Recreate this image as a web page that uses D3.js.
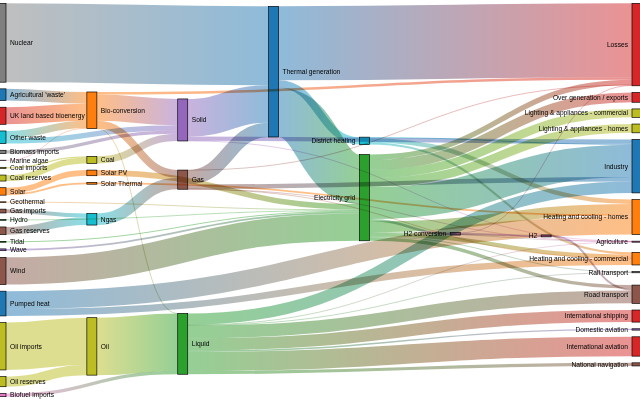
<!DOCTYPE html>
<html>
<head>
<meta charset="utf-8">
<style>
  body { margin: 0; background: #fff; }
  svg { display: block; font: 6.667px "Liberation Sans", Arial, sans-serif; }
</style>
</head>
<body>
<script src="https://cdn.jsdelivr.net/npm/d3@7"></script>
<script>
var width = 640, height = 400;

// nodes, in the order the layout sees them
var nodeNames = [
  "Agricultural 'waste'", "Bio-conversion", "Liquid", "Losses", "Solid", "Gas",
  "Biofuel imports", "Biomass imports", "Coal imports", "Coal", "Coal reserves",
  "District heating", "Industry", "Heating and cooling - commercial",
  "Heating and cooling - homes", "Electricity grid", "Over generation / exports",
  "H2 conversion", "Road transport", "Agriculture", "Rail transport",
  "Lighting & appliances - commercial", "Lighting & appliances - homes",
  "Gas imports", "Ngas", "Gas reserves", "Thermal generation", "Geothermal", "H2",
  "Hydro", "International shipping", "Domestic aviation", "International aviation",
  "National navigation", "Marine algae", "Nuclear", "Oil imports", "Oil",
  "Oil reserves", "Other waste", "Pumped heat", "Solar PV", "Solar Thermal",
  "Solar", "Tidal", "UK land based bioenergy", "Wave", "Wind"
];

// flows: source index, target index, value (TWh)
var linkSource = [0, 1, 1, 1, 1, 6, 7, 8, 10, 9, 11, 11, 11, 15, 15, 15, 15, 15, 15, 15,
  15, 15, 15, 15, 23, 25, 5, 5, 5, 5, 5, 27, 17, 17, 28, 29, 2, 2, 2, 2,
  2, 2, 2, 2, 34, 24, 35, 36, 38, 37, 39, 39, 40, 40, 41, 42, 43, 43, 4, 4,
  4, 26, 26, 26, 44, 45, 46, 47];
var linkTarget = [1, 2, 3, 4, 5, 2, 4, 9, 9, 4, 12, 13, 14, 16, 14, 17, 12, 18, 19, 13,
  3, 20, 21, 22, 24, 24, 13, 3, 26, 19, 12, 15, 28, 3, 18, 15, 12, 30, 18, 31,
  32, 19, 33, 20, 1, 5, 26, 37, 37, 2, 4, 1, 14, 13, 15, 14, 42, 41, 19, 26,
  12, 15, 3, 11, 15, 1, 15, 15];
var linkValue = [124.729, 0.597, 26.862, 280.322, 81.144, 35, 35, 11.606, 63.965, 75.571,
  10.639, 22.505, 46.184, 104.453, 113.726, 27.14, 342.165, 37.797, 4.412, 40.858,
  56.691, 7.863, 90.008, 93.494, 40.719, 82.233, 0.129, 1.401, 151.891, 2.096,
  48.58, 7.013, 20.897, 6.242, 20.897, 6.995, 121.066, 128.69, 135.835, 14.458,
  206.267, 3.64, 33.218, 4.413, 4.375, 122.952, 839.978, 504.287, 107.703, 611.99,
  56.587, 77.81, 193.026, 70.672, 59.901, 19.263, 19.263, 59.901, 0.882, 400.12,
  46.477, 525.531, 787.129, 79.329, 9.452, 182.01, 19.013, 289.366];

// small sankey layout (same steps as d3-sankey, justify alignment)
function sankey(nodes, links, x0, y0, x1, y1, dx, dy, iterations) {
  var py;
  nodes.forEach(function (node, i) { node.index = i; node.sourceLinks = []; node.targetLinks = []; });
  links.forEach(function (link, i) {
    link.index = i;
    link.source = nodes[link.source];
    link.target = nodes[link.target];
    link.source.sourceLinks.push(link);
    link.target.targetLinks.push(link);
  });
  nodes.forEach(function (node) {
    node.value = Math.max(d3.sum(node.sourceLinks, function (l) { return l.value; }),
                          d3.sum(node.targetLinks, function (l) { return l.value; }));
  });

  var current = new Set(nodes), next, x = 0;
  while (current.size) {
    next = new Set();
    current.forEach(function (node) {
      node.depth = x;
      node.sourceLinks.forEach(function (l) { next.add(l.target); });
    });
    x++; current = next;
  }

  var n = d3.max(nodes, function (d) { return d.depth; }) + 1;
  var kx = (x1 - x0 - dx) / (n - 1);
  var columns = [];
  for (var c = 0; c < n; c++) columns.push([]);
  nodes.forEach(function (node) {
    var i = node.sourceLinks.length ? node.depth : n - 1;
    node.layer = i;
    node.x0 = x0 + i * kx;
    node.x1 = node.x0 + dx;
    columns[i].push(node);
  });

  py = Math.min(dy, (y1 - y0) / (d3.max(columns, function (c) { return c.length; }) - 1));

  function byBreadth(a, b) { return a.y0 - b.y0; }
  function bySource(a, b) { return byBreadth(a.source, b.source) || a.index - b.index; }
  function byTarget(a, b) { return byBreadth(a.target, b.target) || a.index - b.index; }

  function reorderLinks(col) {
    col.forEach(function (node) { node.sourceLinks.sort(byTarget); node.targetLinks.sort(bySource); });
  }
  function reorderNodeLinks(node) {
    node.targetLinks.forEach(function (l) { l.source.sourceLinks.sort(byTarget); });
    node.sourceLinks.forEach(function (l) { l.target.targetLinks.sort(bySource); });
  }

  // initial breadths
  var ky = d3.min(columns, function (c) {
    return (y1 - y0 - (c.length - 1) * py) / d3.sum(c, function (d) { return d.value; });
  });
  columns.forEach(function (col) {
    var y = y0;
    col.forEach(function (node) {
      node.y0 = y;
      node.y1 = y + node.value * ky;
      y = node.y1 + py;
      node.sourceLinks.forEach(function (l) { l.width = l.value * ky; });
    });
    y = (y1 - y + py) / (col.length + 1);
    col.forEach(function (node, i) { node.y0 += y * (i + 1); node.y1 += y * (i + 1); });
    reorderLinks(col);
  });

  function targetTop(source, target) {
    var y = source.y0 - (source.sourceLinks.length - 1) * py / 2;
    for (var i = 0; i < source.sourceLinks.length; i++) {
      var l = source.sourceLinks[i];
      if (l.target === target) break;
      y += l.width + py;
    }
    for (var j = 0; j < target.targetLinks.length; j++) {
      var m = target.targetLinks[j];
      if (m.source === source) break;
      y -= m.width;
    }
    return y;
  }
  function sourceTop(source, target) {
    var y = target.y0 - (target.targetLinks.length - 1) * py / 2;
    for (var i = 0; i < target.targetLinks.length; i++) {
      var l = target.targetLinks[i];
      if (l.source === source) break;
      y += l.width + py;
    }
    for (var j = 0; j < source.sourceLinks.length; j++) {
      var m = source.sourceLinks[j];
      if (m.target === target) break;
      y -= m.width;
    }
    return y;
  }

  function pushDown(col, y, i, alpha) {
    for (; i < col.length; ++i) {
      var node = col[i], d = (y - node.y0) * alpha;
      if (d > 1e-6) { node.y0 += d; node.y1 += d; }
      y = node.y1 + py;
    }
  }
  function pushUp(col, y, i, alpha) {
    for (; i >= 0; --i) {
      var node = col[i], d = (node.y1 - y) * alpha;
      if (d > 1e-6) { node.y0 -= d; node.y1 -= d; }
      y = node.y0 - py;
    }
  }
  function resolveCollisions(col, alpha) {
    var i = col.length >> 1, subject = col[i];
    pushUp(col, subject.y0 - py, i - 1, alpha);
    pushDown(col, subject.y1 + py, i + 1, alpha);
    pushUp(col, y1, col.length - 1, alpha);
    pushDown(col, y0, 0, alpha);
  }

  function relaxLeftToRight(alpha, beta) {
    for (var i = 1; i < columns.length; ++i) {
      var col = columns[i];
      col.forEach(function (target) {
        var y = 0, w = 0;
        target.targetLinks.forEach(function (l) {
          var v = l.value * (target.layer - l.source.layer);
          y += targetTop(l.source, target) * v;
          w += v;
        });
        if (!(w > 0)) return;
        var d = (y / w - target.y0) * alpha;
        target.y0 += d; target.y1 += d;
        reorderNodeLinks(target);
      });
      col.sort(byBreadth);
      resolveCollisions(col, beta);
    }
  }
  function relaxRightToLeft(alpha, beta) {
    for (var i = columns.length - 2; i >= 0; --i) {
      var col = columns[i];
      col.forEach(function (source) {
        var y = 0, w = 0;
        source.sourceLinks.forEach(function (l) {
          var v = l.value * (l.target.layer - source.layer);
          y += sourceTop(source, l.target) * v;
          w += v;
        });
        if (!(w > 0)) return;
        var d = (y / w - source.y0) * alpha;
        source.y0 += d; source.y1 += d;
        reorderNodeLinks(source);
      });
      col.sort(byBreadth);
      resolveCollisions(col, beta);
    }
  }

  for (var it = 0; it < iterations; ++it) {
    var alpha = Math.pow(0.99, it);
    var beta = Math.max(1 - alpha, (it + 1) / iterations);
    relaxRightToLeft(alpha, beta);
    relaxLeftToRight(alpha, beta);
  }

  // link breadths
  nodes.forEach(function (node) {
    var ya = node.y0, yb = node.y0;
    node.sourceLinks.forEach(function (l) { l.y0 = ya + l.width / 2; ya += l.width; });
    node.targetLinks.forEach(function (l) { l.y1 = yb + l.width / 2; yb += l.width; });
  });
}

var nodes = nodeNames.map(function (name) {
  return { name: name, category: name.replace(/ .*/, "") };
});
var links = linkValue.map(function (v, i) {
  return { source: linkSource[i], target: linkTarget[i], value: v };
});

sankey(nodes, links, -4, 10 / 3, 642, 400 - 10 / 3, 10, 20 / 3, 6);

var color = d3.scaleOrdinal(d3.schemeCategory10);

var svg = d3.select("body").append("svg")
  .attr("width", width)
  .attr("height", height);

svg.append("g")
  .attr("stroke", "#000")
  .attr("stroke-width", 2 / 3)
  .selectAll("rect")
  .data(nodes)
  .enter().append("rect")
  .attr("x", function (d) { return d.x0; })
  .attr("y", function (d) { return d.y0; })
  .attr("height", function (d) { return d.y1 - d.y0; })
  .attr("width", function (d) { return d.x1 - d.x0; })
  .attr("fill", function (d) { return color(d.category); });

var link = svg.append("g")
  .attr("fill", "none")
  .attr("stroke-opacity", 0.5)
  .selectAll("g")
  .data(links)
  .enter().append("g")
  .style("mix-blend-mode", "multiply");

var gradient = link.append("linearGradient")
  .attr("id", function (d) { return "link-" + d.index; })
  .attr("gradientUnits", "userSpaceOnUse")
  .attr("x1", function (d) { return d.source.x1; })
  .attr("x2", function (d) { return d.target.x0; });
gradient.append("stop").attr("offset", "0%")
  .attr("stop-color", function (d) { return color(d.source.category); });
gradient.append("stop").attr("offset", "100%")
  .attr("stop-color", function (d) { return color(d.target.category); });

var linkPath = d3.linkHorizontal()
  .source(function (d) { return [d.source.x1, d.y0]; })
  .target(function (d) { return [d.target.x0, d.y1]; });

link.append("path")
  .attr("d", linkPath)
  .attr("stroke", function (d) { return "url(#link-" + d.index + ")"; })
  .attr("stroke-width", function (d) { return Math.max(2 / 3, d.width); });

svg.append("g")
  .selectAll("text")
  .data(nodes)
  .enter().append("text")
  .attr("x", function (d) { return d.x0 < width / 2 ? d.x1 + 4 : d.x0 - 4; })
  .attr("y", function (d) { return (d.y1 + d.y0) / 2; })
  .attr("dy", "0.35em")
  .attr("text-anchor", function (d) { return d.x0 < width / 2 ? "start" : "end"; })
  .text(function (d) { return d.name; });
</script>
</body>
</html>
